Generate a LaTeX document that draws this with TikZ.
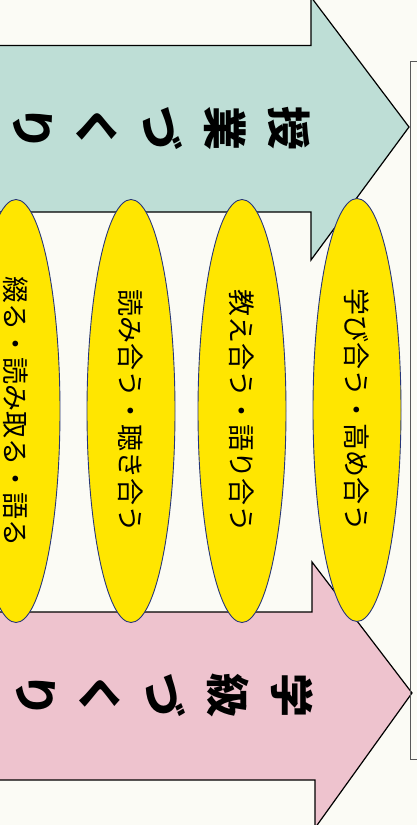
\documentclass[tikz,border=0pt]{standalone}
\usepackage{fontspec}
\newfontfamily\jpfont{Noto Sans CJK JP}
\usetikzlibrary{shapes}
\definecolor{paper}{RGB}{251,251,245}
\definecolor{lessonteal}{RGB}{190,222,214}
\definecolor{classpink}{RGB}{238,195,206}
\definecolor{ovalyellow}{RGB}{255,230,0}
\definecolor{ovalline}{RGB}{40,55,120}

\begin{document}
\begin{tikzpicture}[x=1pt, y=-1pt,
  band/.style={draw=black, line width=1.2pt, line join=miter},
  oval/.style={ellipse, draw=ovalline, line width=0.9pt, fill=ovalyellow, minimum width=423pt, minimum height=88pt, inner sep=0pt, rotate=-90, font=\jpfont\fontsize{27}{30}\selectfont},
  bandlabel/.style={rotate=-90, align=center, inner sep=0pt, font=\jpfont\bfseries\fontsize{44}{64}\selectfont}]
\useasboundingbox (0,0) rectangle (417,825);
\fill[paper] (0,0) rectangle (417,825);
% the two big arrows
\draw[band, fill=lessonteal] (-3,45.5) -- (311,45.5) -- (311,-3) -- (409,127) -- (311,260) -- (311,212) -- (-3,212);
\draw[band, fill=classpink] (-3,612) -- (312,612) -- (312,562) -- (412,693) -- (315,828) -- (315,780) -- (-3,780);
\node[bandlabel] (lesson) at (162,128) {授\\業\\づ\\く\\り};
\node[bandlabel] (classroom) at (165,695) {学\\級\\づ\\く\\り};
% the four ovals
\node[oval] (write) at (16,411) {綴る・読み取る・語る};
\node[oval] (read) at (131,411) {読み合う・聴き合う};
\node[oval] (teach) at (242,411) {教え合う・語り合う};
\node[oval] (learn) at (357,410) {学び合う・高め合う};
% box on the right
\draw[black!65, line width=0.8pt] (420,61) -- (410,61) -- (410,759) -- (420,759);
\end{tikzpicture}
\end{document}
